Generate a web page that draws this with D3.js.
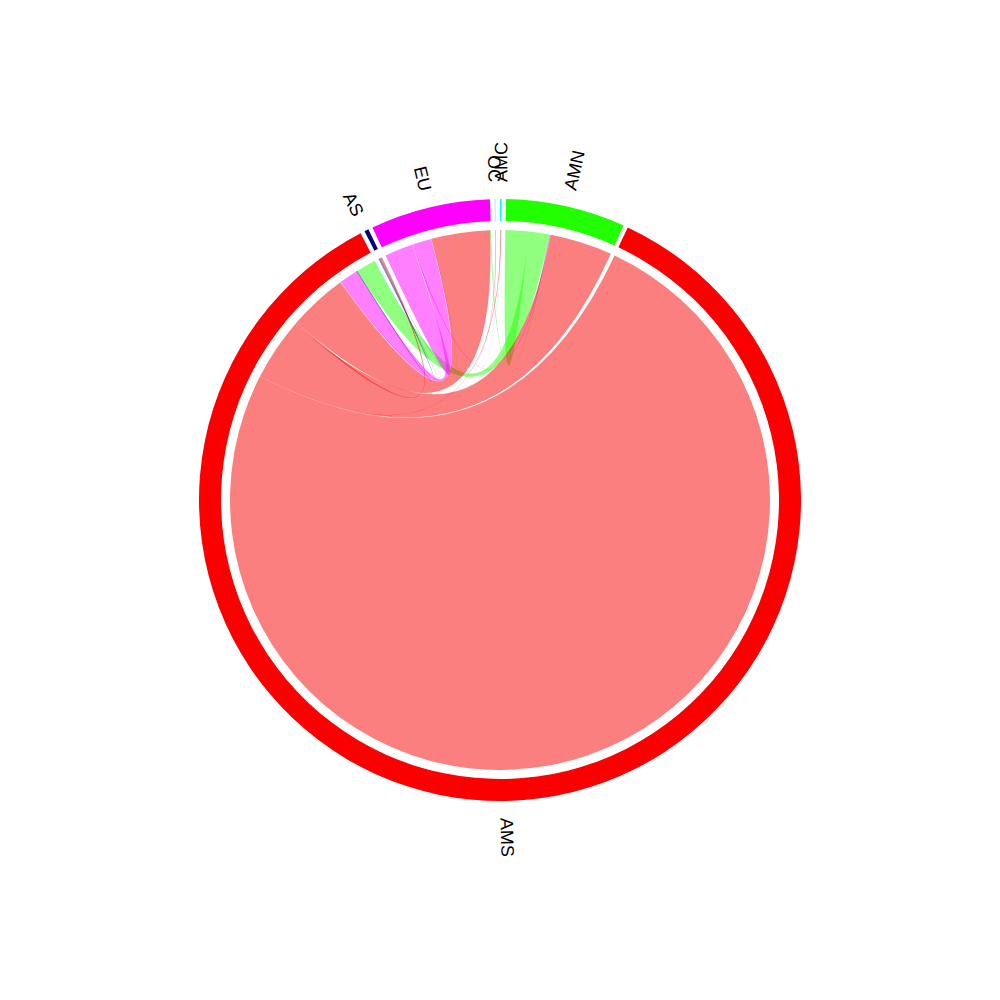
<!DOCTYPE html>
<html><head><meta charset="utf-8">
<script src="https://cdn.jsdelivr.net/npm/d3@7"></script>
<style>body{margin:0;background:#fff}</style>
</head><body>
<svg id="chart" width="1000" height="1000"></svg>
<script>
// Regions (clockwise from 12 o'clock)
const regions = ["AMC", "AMN", "AMS", "AS", "EU", "OC"];
const regionColors = ["#00ffff", "#22ff00", "#fa0000", "#000080", "#ff00ff", "#d9d9d9"];
// Directed flows: row = from region, column = to region (order as in `regions`)
const fromAMC = [0,   0.2, 0.8,  0,   0,   0];
const fromAMN = [0.3, 25,  42,   0,   2,   0];
const fromAMS = [1.5, 133, 1352, 4,   125, 1];
const fromAS  = [0,   0,   2.5,  0.5, 0.3, 0];
const fromEU  = [0.2, 2,   40,   0.2, 30,  0.3];
const fromOC  = [0,   0,   0.5,  0,   0.2, 0];
const matrix = [fromAMC, fromAMN, fromAMS, fromAS, fromEU, fromOC];

const outerR = 301, innerR = 279, ribbonR = 270, padAngle = 0.015, labelGap = 17;
const n = regions.length;
const totals = regions.map((_, i) => d3.sum(matrix[i]) + d3.sum(matrix, r => r[i]));
const angle = d3.scaleLinear().domain([0, d3.sum(totals)]).range([0, 2 * Math.PI - padAngle * n]);

// Layout: each group = [self][outgoing asc][incoming desc]
const groups = [];
const outSub = regions.map(() => ({}));
const inSub = regions.map(() => ({}));
const selfSub = {};
let cum = 0;
regions.forEach((name, i) => {
  const pos = v => angle(v) + i * padAngle;
  const g0 = pos(cum);
  if (matrix[i][i]) {
    selfSub[i] = {a: pos(cum), m: pos(cum + matrix[i][i]), b: pos(cum + 2 * matrix[i][i])};
    cum += 2 * matrix[i][i];
  }
  for (let j = 0; j < n; j++) if (j !== i && matrix[i][j]) {
    outSub[i][j] = {index: i, startAngle: pos(cum), endAngle: pos(cum + matrix[i][j])};
    cum += matrix[i][j];
  }
  for (let j = n - 1; j >= 0; j--) if (j !== i && matrix[j][i]) {
    inSub[i][j] = {index: i, startAngle: pos(cum), endAngle: pos(cum + matrix[j][i])};
    cum += matrix[j][i];
  }
  groups.push({index: i, name, startAngle: g0, endAngle: pos(cum)});
});

const chords = [];
for (let i = 0; i < n; i++) {
  for (let j = 0; j < n; j++) {
    if (!matrix[i][j]) continue;
    if (i === j) {
      const s = selfSub[i];
      chords.push({source: {index: i, startAngle: s.a, endAngle: s.m},
                   target: {index: i, startAngle: s.m, endAngle: s.b}});
    } else {
      chords.push({source: outSub[i][j], target: inSub[j][i]});
    }
  }
}

const svg = d3.select("#chart");
const g = svg.append("g").attr("transform", "translate(500,500)");

const ribbon = d3.ribbon().radius(ribbonR);
g.append("g").selectAll("path").data(chords).join("path")
  .attr("d", ribbon)
  .attr("fill", d => regionColors[d.source.index])
  .attr("fill-opacity", 0.5)
  .attr("stroke", "none");

const arc = d3.arc().innerRadius(innerR).outerRadius(outerR);
g.append("g").selectAll("path").data(groups).join("path")
  .attr("d", arc)
  .attr("fill", d => regionColors[d.index]);

g.append("g").selectAll("text").data(groups).join("text")
  .each(function(d) { d.mid = (d.startAngle + d.endAngle) / 2; })
  .attr("transform", d => `rotate(${d.mid * 180 / Math.PI - 90}) translate(${outerR + labelGap},0)` + (d.mid > Math.PI ? " rotate(180)" : ""))
  .attr("dy", "0.35em")
  .attr("text-anchor", d => d.mid > Math.PI ? "end" : "start")
  .style("font-family", "'Liberation Sans', Arial, sans-serif")
  .style("font-size", "18px")
  .attr("fill", "#000")
  .text(d => d.name);
</script>
</body></html>
